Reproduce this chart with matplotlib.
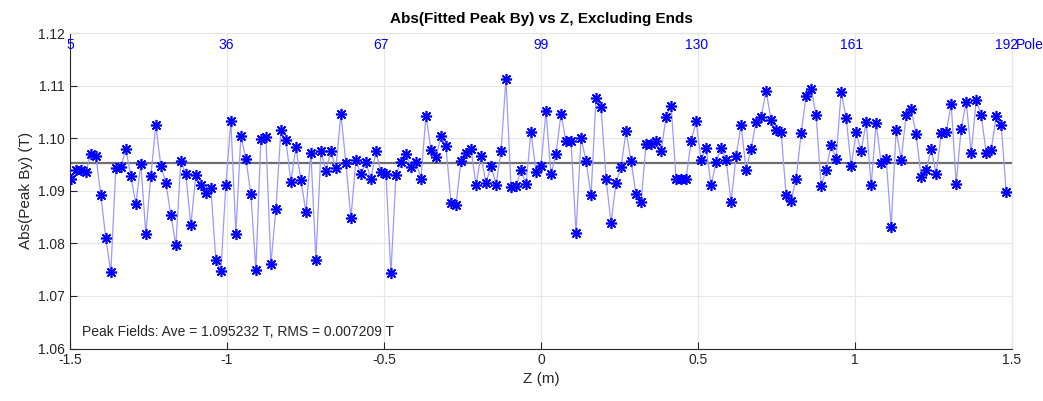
import numpy as np
import matplotlib
matplotlib.use("Agg")
import matplotlib.pyplot as plt
from matplotlib.ticker import FuncFormatter

plt.rcParams['font.family'] = ['Liberation Sans', 'DejaVu Sans']

# pole numbers and measured |peak By| (T)
poles = np.arange(5, 193)
peak_by = [
    1.0923, 1.0939, 1.0940, 1.0936, 1.0970, 1.0967, 1.0891, 1.0810, 1.0745, 1.0943,
    1.0945, 1.0980, 1.0928, 1.0875, 1.0951, 1.0818, 1.0928, 1.1025, 1.0947, 1.0915,
    1.0854, 1.0796, 1.0957, 1.0931, 1.0834, 1.0930, 1.0910, 1.0895, 1.0905, 1.0769,
    1.0748, 1.0911, 1.1033, 1.0818, 1.1005, 1.0961, 1.0894, 1.0749, 1.0999, 1.1002,
    1.0760, 1.0865, 1.1015, 1.0996, 1.0917, 1.0983, 1.0920, 1.0860, 1.0972, 1.0769,
    1.0975, 1.0938, 1.0975, 1.0943, 1.1046, 1.0952, 1.0848, 1.0958, 1.0931, 1.0954,
    1.0922, 1.0976, 1.0935, 1.0932, 1.0743, 1.0930, 1.0955, 1.0970, 1.0945, 1.0955,
    1.0923, 1.1043, 1.0978, 1.0964, 1.1004, 1.0985, 1.0877, 1.0872, 1.0957, 1.0972,
    1.0980, 1.0911, 1.0966, 1.0914, 1.0948, 1.0911, 1.0975, 1.1113, 1.0907, 1.0909,
    1.0939, 1.0913, 1.1012, 1.0936, 1.0948, 1.1051, 1.0931, 1.0970, 1.1046, 1.0994,
    1.0994, 1.0820, 1.1001, 1.0957, 1.0891, 1.1077, 1.1060, 1.0923, 1.0839, 1.0915,
    1.0945, 1.1013, 1.0957, 1.0893, 1.0879, 1.0988, 1.0988, 1.0994, 1.0975, 1.1040,
    1.1062, 1.0923, 1.0923, 1.0923, 1.0994, 1.1032, 1.0959, 1.0982, 1.0910, 1.0954,
    1.0982, 1.0959, 1.0878, 1.0966, 1.1025, 1.0940, 1.0980, 1.1031, 1.1040, 1.1090,
    1.1034, 1.1015, 1.1012, 1.0891, 1.0881, 1.0923, 1.1009, 1.1081, 1.1094, 1.1044,
    1.0909, 1.0940, 1.0987, 1.0961, 1.1088, 1.1039, 1.0947, 1.1011, 1.0975, 1.1031,
    1.0910, 1.1029, 1.0952, 1.0961, 1.0832, 1.1015, 1.0959, 1.1044, 1.1056, 1.1007,
    1.0926, 1.0939, 1.0980, 1.0931, 1.1009, 1.1011, 1.1065, 1.0913, 1.1018, 1.1069,
    1.0972, 1.1072, 1.1044, 1.0972, 1.0978, 1.1042, 1.1025, 1.0897,
]
ave = 1.095232
rms = 0.007209
pole_pitch = 0.01593  # m
center_pole = 99
top_poles = [5, 36, 67, 99, 130, 161, 192]

z = (poles - center_pole) * pole_pitch

fig = plt.figure(figsize=(10.43, 4.01), dpi=100)
ax = fig.add_axes([0.0671, 0.1309, 0.9032, 0.7868])

ax.plot(z, peak_by, color='#9a9aff', lw=0.9, zorder=3)
ax.plot(z, peak_by, ls='none', marker=(8, 2, 0), ms=8, mew=1.2,
        color='#0000ff', zorder=4)
ax.axhline(ave, color='#6e6e6e', lw=1.6, zorder=2)

ax.set_xlim(-1.5, 1.5)
ax.set_ylim(1.06, 1.12)
ax.set_xticks([-1.5, -1, -0.5, 0, 0.5, 1, 1.5])
ax.set_yticks(np.arange(1.06, 1.1201, 0.01))
ax.xaxis.set_major_formatter(FuncFormatter(lambda v, p: '%g' % v))
ax.yaxis.set_major_formatter(FuncFormatter(lambda v, p: '%.2f' % v))
ax.grid(True, color='#e6e6e6', lw=0.8, zorder=0)
ax.set_axisbelow(True)
ax.tick_params(direction='in', length=5, colors='#262626', labelsize=10,
               labelcolor='#262626')
for s in ['left', 'bottom']:
    ax.spines[s].set_color('#262626')
for s in ['top', 'right']:
    ax.spines[s].set_color('#e6e6e6')

# pole numbers along top
for p in top_poles:
    zp = (p - center_pole) * pole_pitch
    ax.text(zp, 1.1191, str(p), color='#0000ff', fontsize=10,
            ha='center', va='top', clip_on=False)
ax.annotate('Pole', xy=(1.5, 1.1191), xytext=(3, 0), textcoords='offset points',
            color='#0000ff', fontsize=10, ha='left', va='top',
            annotation_clip=False)

ax.text(-1.462, 1.0618, 'Peak Fields: Ave = %.6f T, RMS = %.6f T' % (ave, rms),
        fontsize=10, color='#262626', ha='left', va='bottom')

ax.set_title('Abs(Fitted Peak By) vs Z, Excluding Ends', fontsize=11,
             fontweight='bold', pad=7)
ax.set_xlabel('Z (m)', fontsize=11, color='#262626', labelpad=3)
ax.set_ylabel('Abs(Peak By) (T)', fontsize=11, color='#262626', labelpad=4)

fig.savefig('out.png', dpi=100)
